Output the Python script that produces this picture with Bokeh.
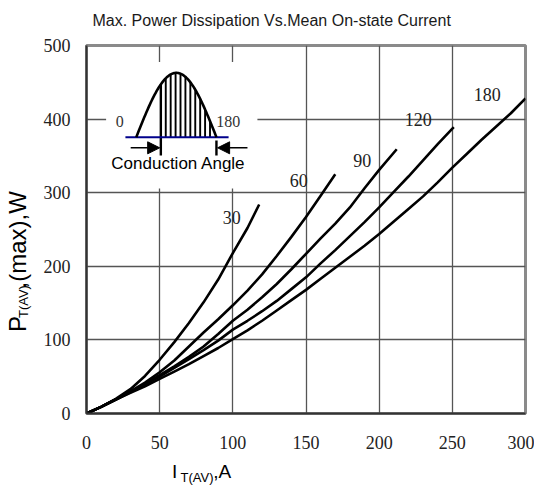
import numpy as np
from bokeh.plotting import figure
from bokeh.layouts import row, column
from bokeh.models import Range1d, Label, Arrow, NormalHead, FixedTicker
from bokeh.embed import file_html
from bokeh.resources import INLINE

# ---------------- data ----------------
x_ticks = [0, 50, 100, 150, 200, 250, 300]
y_ticks = [0, 100, 200, 300, 400, 500]
angle_labels = ["30", "60", "90", "120", "180"]

i30 = [0, 10, 20, 30, 40, 50, 60, 70, 80, 90, 100, 110, 118]
p30 = [0, 9, 20, 33, 51, 73, 97, 123, 151, 182, 218, 252, 284]

i60 = [0, 10, 20, 30, 40, 50, 60, 70, 80, 90, 100, 110, 120, 130, 140, 150, 160, 170]
p60 = [0, 9, 19, 30, 42, 56, 72, 91, 110, 128, 147, 167, 189, 214, 240, 267, 296, 325]

i90 = [0, 10, 20, 30, 40, 50, 60, 70, 80, 90, 100, 110, 120, 130, 140, 150, 160, 170, 180, 190, 200, 212]
p90 = [0, 9, 19, 29, 40, 52, 64, 77, 91, 108, 126, 141, 158, 176, 196, 217, 238, 258, 280, 306, 331, 359]

i120 = [0, 10, 20, 30, 40, 50, 60, 70, 80, 90, 100, 110, 120, 130, 140, 150, 160, 170, 180, 190, 200, 210, 220, 230, 240, 251]
p120 = [0, 9, 19, 29, 40, 50, 62, 74, 86, 99, 114, 126, 139, 153, 169, 185, 204, 222, 241, 260, 280, 301, 322, 344, 366, 389]

i180 = [0, 10, 20, 30, 40, 50, 60, 70, 80, 90, 100, 110, 120, 130, 140, 150, 160, 170, 180, 190, 200, 210, 220, 230, 240, 250, 260, 270, 280, 290, 300]
p180 = [0, 9, 19, 28, 37, 47, 57, 67, 78, 89, 101, 113, 126, 140, 154, 168, 183, 198, 213, 228, 244, 261, 278, 295, 314, 334, 353, 372, 390, 408, 428]

curves = [(i30, p30), (i60, p60), (i90, p90), (i120, p120), (i180, p180)]

SERIF = "Liberation Serif"
SANS = "Liberation Sans"
MID = 0.35            # distance (in em) from the alphabetic baseline up to the text middle

TOTAL_W = 534
TITLE_H = 36          # page y 0..36
YLAB_W = 32
MAIN_W = TOTAL_W - YLAB_W
MAIN_H = 424          # page y 36..460
XLAB_H = 25           # page y 460..485
PX_PER_Y = 368 / 500  # frame pixels per data unit (vertical)

# ---------------- main figure ----------------
p = figure(width=MAIN_W, height=MAIN_H, x_range=Range1d(0, 300), y_range=Range1d(0, 500),
           title=None, toolbar_location=None, output_backend="svg",
           min_border_left=54, min_border_right=9, min_border_top=9, min_border_bottom=47)
p.background_fill_color = "white"
p.border_fill_color = "white"
p.outline_line_color = "#8a8a8a"
p.outline_line_width = 3

p.xaxis.ticker = FixedTicker(ticks=x_ticks)
p.yaxis.ticker = FixedTicker(ticks=y_ticks)
for ax in (p.xaxis[0], p.yaxis[0]):
    ax.major_tick_line_color = None
    ax.minor_tick_line_color = None
    ax.major_tick_out = 0
    ax.major_tick_in = 0
    ax.minor_tick_out = 0
    ax.minor_tick_in = 0
    ax.axis_line_color = "#333333"
    ax.axis_line_width = 2
    ax.major_label_text_font = SERIF
    ax.major_label_text_font_size = "18px"
    ax.major_label_text_color = "#222222"
p.xaxis.major_label_standoff = 22
p.yaxis.major_label_standoff = 16

p.grid.grid_line_color = "#555555"
p.grid.grid_line_width = 1.3

# white box behind the inset
p.quad(left=13.4, right=116.8, bottom=305.7, top=477.5, fill_color="white", line_color=None)

# curves
for xs, ys in curves:
    p.line(xs, ys, line_color="black", line_width=2.6)


def data_text(x, y_base, text, font, size, align="center", color="#222222"):
    """y_base is the alphabetic baseline in data units; text is anchored at its middle."""
    y_mid = y_base + MID * size / PX_PER_Y
    p.add_layout(Label(x=x, y=y_mid, text=text, text_align=align, text_baseline="middle",
                       text_font=font, text_font_size=f"{size}px", text_color=color))


# curve labels
label_pos = [(99.3, 258), (145, 308.4), (188.4, 335.6), (226.7, 391.3), (273.8, 424.3)]
for txt, (lx, ly) in zip(angle_labels, label_pos):
    data_text(lx, ly, txt, SERIF, 18)

# ---------------- inset: conduction angle sketch ----------------
base_y = 375.4
amp = 87.5
xs0, xs1 = 34.0, 88.8
theta = np.linspace(0, np.pi, 80)
sx = xs0 + (xs1 - xs0) * theta / np.pi
sy = base_y + amp * np.sin(theta)

hx = np.arange(50.8, 87.0, 3.36)
hy = base_y + amp * np.sin((hx - xs0) / (xs1 - xs0) * np.pi)
p.segment(x0=hx[1:], y0=base_y, x1=hx[1:], y1=hy[1:], line_color="black", line_width=1.9)
p.segment(x0=[hx[0]], y0=[350.5], x1=[hx[0]], y1=[hy[0]], line_color="black", line_width=2.4)
p.segment(x0=[xs1], y0=[350.5], x1=[xs1], y1=[371], line_color="black", line_width=2.4)
p.line([26.6, 97.1], [base_y, base_y], line_color="#00008b", line_width=2)
p.line(sx, sy, line_color="black", line_width=2.6)

p.add_layout(Arrow(end=NormalHead(size=12, fill_color="black", line_color="black"),
                   x_start=30.2, y_start=361, x_end=50.0, y_end=361, line_width=1.6))
p.add_layout(Arrow(end=NormalHead(size=12, fill_color="black", line_color="black"),
                   x_start=110.0, y_start=361, x_end=89.6, y_end=361, line_width=1.6))

data_text(22.8, 389, "0", SERIF, 16, color="#333333")
data_text(88.6, 389, "180", SERIF, 16, align="left", color="#333333")
data_text(62.8, 331, "Conduction Angle", SANS, 17, color="black")


# ---------------- text strips (pixel coordinates of the page, y downward) ----------------
def strip(w, h, left, top):
    f = figure(width=w, height=h, x_range=Range1d(left, left + w), y_range=Range1d(top + h, top),
               title=None, toolbar_location=None, output_backend="svg",
               x_axis_location=None, y_axis_location=None,
               min_border_left=0, min_border_right=0, min_border_top=0, min_border_bottom=0)
    f.outline_line_color = None
    f.grid.visible = False
    f.background_fill_color = "white"
    f.border_fill_color = "white"
    return f


def add_text(f, x, y_base, text, size, vertical=False, color="black"):
    """(x, y_base) is the start of the alphabetic baseline in page pixels; anchored at the middle."""
    if vertical:
        f.add_layout(Label(x=x - MID * size, y=y_base, text=text, angle=np.pi / 2,
                           text_align="left", text_baseline="middle",
                           text_font=SANS, text_font_size=f"{size}px", text_color=color))
    else:
        f.add_layout(Label(x=x, y=y_base - MID * size, text=text,
                           text_align="left", text_baseline="middle",
                           text_font=SANS, text_font_size=f"{size}px", text_color=color))


title_strip = strip(TOTAL_W, TITLE_H, 0, 0)
add_text(title_strip, 92.0, 25.7, "Max. Power Dissipation Vs.Mean On-state Current", 16, color="#1a1a1a")

ylab = strip(YLAB_W, MAIN_H, 0, TITLE_H)
add_text(ylab, 25.5, 366.0, "P", 24, vertical=True)
add_text(ylab, 28.0, 350.0, "T(AV)", 13, vertical=True)
add_text(ylab, 25.5, 316.0, ",(max),W", 24, vertical=True)

xlab = strip(TOTAL_W, XLAB_H, 0, TITLE_H + MAIN_H)
add_text(xlab, 171.5, 478.0, "I", 19)
add_text(xlab, 180.0, 481.5, "T(AV)", 13)
add_text(xlab, 212.7, 478.0, ",A", 19)

mid_row = row(ylab, p, spacing=0)
layout = column(title_strip, mid_row, xlab, spacing=0)

open("out.html", "w").write(file_html(layout, INLINE))
